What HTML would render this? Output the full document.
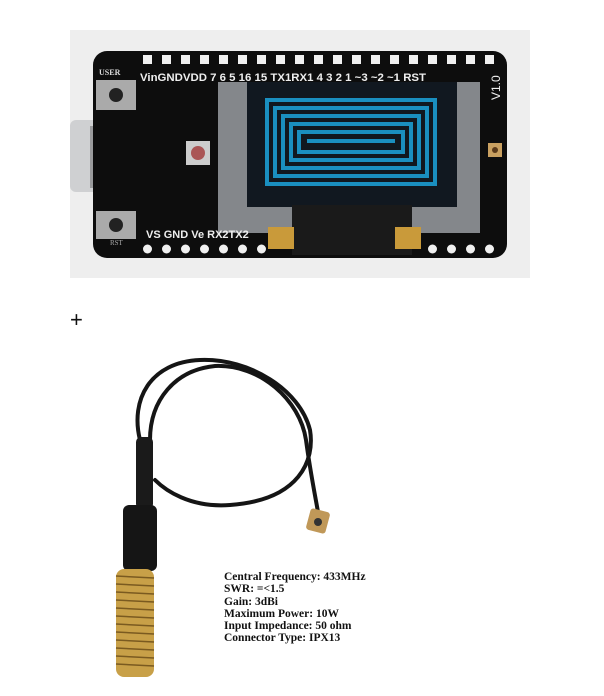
<!DOCTYPE html>
<html><head><meta charset="utf-8"><style>
body{margin:0;width:604px;height:696px;background:#fff;position:relative;overflow:hidden;font-family:"Liberation Serif",serif}
.t{position:absolute;left:224px;top:571px;font-weight:bold;font-size:11.5px;line-height:12.3px;color:#111}
</style></head><body>
<svg width="604" height="696" style="position:absolute;left:0;top:0">
<rect x="70" y="30" width="460" height="248" fill="#eeeeee"/>
<rect x="70" y="120" width="62" height="72" rx="6" fill="#cfd0d2"/>
<rect x="90" y="126" width="40" height="62" fill="#9a9b9d"/>
<rect x="93" y="51" width="414" height="207" rx="14" fill="#0d0d0d"/>
<g id="pins"></g>
<rect x="96" y="80" width="40" height="30" fill="#aaa"/><circle cx="116" cy="95" r="7" fill="#222"/>
<rect x="96" y="211" width="40" height="28" fill="#aaa"/><circle cx="116" cy="225" r="7" fill="#222"/>
<rect x="186" y="141" width="24" height="24" fill="#ccc"/><circle cx="198" cy="153" r="7" fill="#a55"/>
<rect x="218" y="82" width="262" height="151" fill="#b8bcc2" opacity="0.7"/>
<rect x="247" y="82" width="210" height="125" fill="#111820"/>
<rect x="292" y="205" width="120" height="50" fill="#1a1a1a"/>
<rect x="268" y="227" width="26" height="22" fill="#c99a3a"/>
<rect x="395" y="227" width="26" height="22" fill="#c99a3a"/>
<g fill="none" stroke="#1a8fc0" stroke-width="4">
<rect x="267" y="100" width="168" height="84"/>
<rect x="275" y="108" width="152" height="68"/>
<rect x="283" y="116" width="136" height="52"/>
<rect x="291" y="124" width="120" height="36"/>
<rect x="299" y="132" width="104" height="20"/>
<line x1="307" y1="141" x2="395" y2="141"/>
</g>
<rect x="488" y="143" width="14" height="14" fill="#c9a060"/><circle cx="495" cy="150" r="3" fill="#5a3a1a"/>
<text x="99" y="75" font-size="8" fill="#ddd" font-weight="bold">USER</text>
<text x="140" y="81" font-size="11" fill="#eee" font-family="Liberation Sans" font-weight="bold" textLength="286" lengthAdjust="spacingAndGlyphs">VinGNDVDD 7  6  5  16 15 TX1RX1 4  3  2  1  ~3 ~2 ~1 RST</text>
<text x="146" y="238" font-size="11" fill="#eee" font-family="Liberation Sans" font-weight="bold">VS GND Ve RX2TX2</text>
<text x="110" y="245" font-size="7" fill="#aaa">RST</text>
<text x="500" y="100" font-size="12" fill="#eee" transform="rotate(-90 500 100)" font-family="Liberation Sans">V1.0</text>
<text x="70" y="327" font-size="22" fill="#111" font-family="Liberation Sans">+</text>
<g fill="none" stroke="#151515" stroke-width="4" stroke-linecap="round">
<path d="M140 440 C130 400,150 362,200 360 C250 358,300 390,310 430 C315 460,300 500,230 505 C190 508,165 490,155 480"/>
<path d="M150 440 C150 400,175 370,215 366 C260 364,300 400,306 440 C310 470,315 495,318 512"/>
</g>
<rect x="136" y="437" width="17" height="72" rx="5" fill="#1a1a1a"/>
<rect x="123" y="505" width="34" height="66" rx="6" fill="#151515"/>
<rect x="116" y="569" width="38" height="108" rx="8" fill="#c8a048"/>
<g stroke="#7a5a20" stroke-width="1.5">
<line x1="116" y1="576" x2="154" y2="578"/><line x1="116" y1="584" x2="154" y2="586"/><line x1="116" y1="592" x2="154" y2="594"/><line x1="116" y1="600" x2="154" y2="602"/><line x1="116" y1="608" x2="154" y2="610"/><line x1="116" y1="616" x2="154" y2="618"/><line x1="116" y1="624" x2="154" y2="626"/><line x1="116" y1="632" x2="154" y2="634"/><line x1="116" y1="640" x2="154" y2="642"/><line x1="116" y1="648" x2="154" y2="650"/><line x1="116" y1="656" x2="154" y2="658"/><line x1="116" y1="664" x2="154" y2="666"/>
</g>
<rect x="308" y="510" width="20" height="22" rx="3" fill="#c09858" transform="rotate(15 318 521)"/>
<circle cx="318" cy="522" r="4" fill="#333"/>
</svg>
<script>
var g=document.getElementById('pins'),s='';
for(var i=0;i<19;i++){s+='<rect x="'+(143+i*19)+'" y="55" width="9" height="9" fill="#f0f0f0"/>';}
for(var i=0;i<19;i++){var x=143+i*19;if(x>260&&x<420)continue;s+='<circle cx="'+(x+4.5)+'" cy="249" r="4.5" fill="#f0f0f0"/>';}
g.innerHTML=s;
</script>
<div class="t">Central Frequency: 433MHz<br>SWR: =&lt;1.5<br>Gain: 3dBi<br>Maximum Power: 10W<br>Input Impedance: 50 ohm<br>Connector Type: IPX13</div>
</body></html>
